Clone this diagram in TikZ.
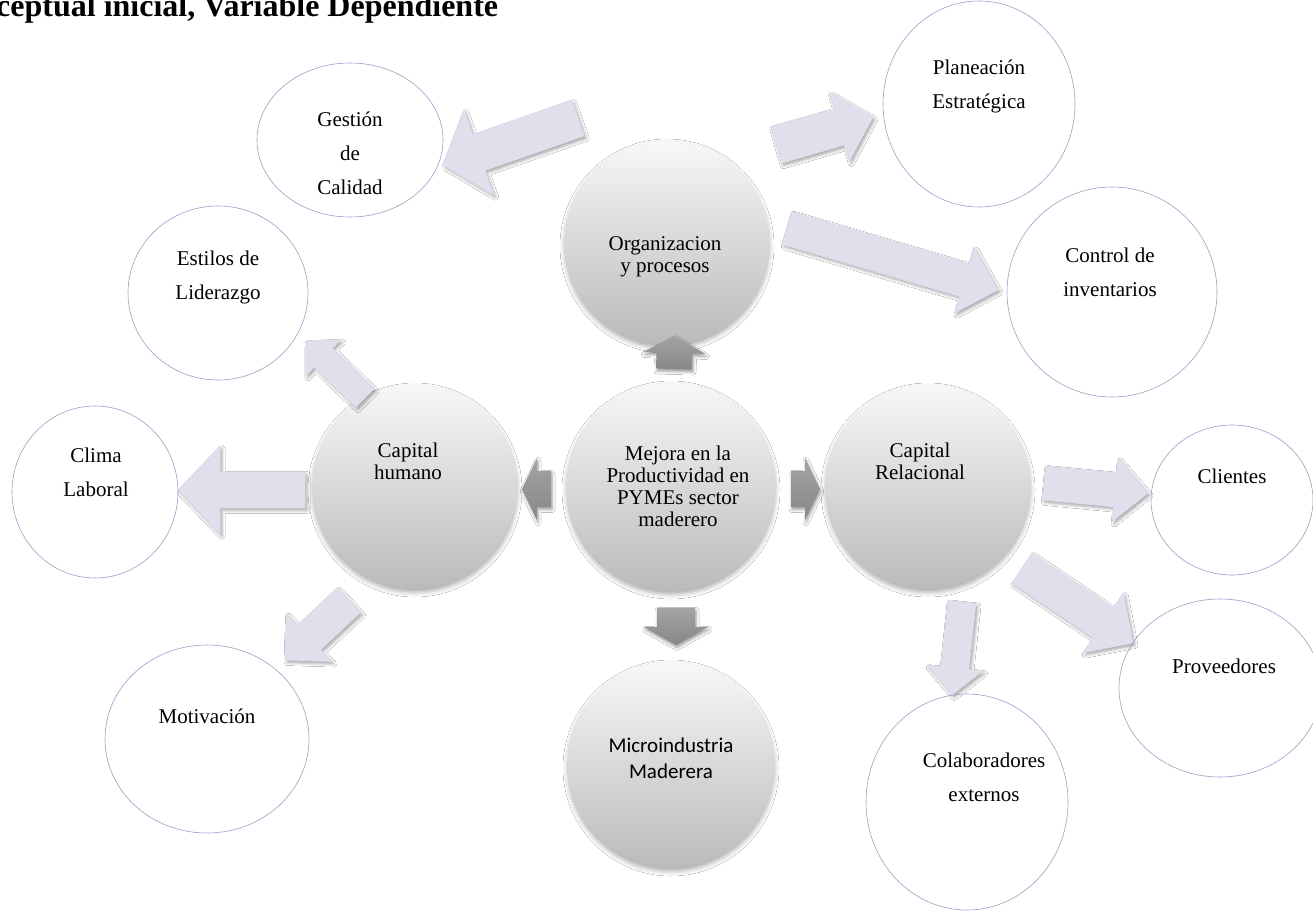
\documentclass[tikz,border=0pt]{standalone}
\usepackage{fontspec}
\setmainfont{Liberation Serif}
\newfontfamily\calfont{Carlito}
\usetikzlibrary{calc,shapes.geometric,shadows.blur}

\definecolor{lav}{RGB}{226,223,237}
\definecolor{lavedge}{RGB}{210,221,238}
\definecolor{ring}{RGB}{170,152,202}

% block arrow: style, tail, tip, half shaft width, half head width, head length
\newcommand\blockarrow[6]{%
  \coordinate (ba-c) at ($(#3)!#6!(#2)$);
  \path[#1] ($(#2)!#4!90:(#3)$) -- ($(ba-c)!#4!90:(#3)$) -- ($(ba-c)!#5!90:(#3)$)
    -- (#3) -- ($(ba-c)!#5!-90:(#3)$) -- ($(ba-c)!#4!-90:(#3)$) -- ($(#2)!#4!-90:(#3)$) -- cycle;}

\tikzset{
  hub/.style={circle, minimum size=#1, inner sep=0pt,
    top color=white!97!black, middle color=white!89!black, bottom color=white!73!black,
    blur shadow={shadow xshift=0pt, shadow yshift=-3pt, shadow blur radius=5pt, shadow opacity=35}},
  leaf/.style={ellipse, draw=ring, line width=0.6pt, inner sep=0pt},
  softarrow/.style={fill=lav, draw=lavedge, line width=0.7pt, line join=miter,
    blur shadow={shadow xshift=2pt, shadow yshift=-2.5pt, shadow blur radius=3pt, shadow opacity=35}},
  hubarrow/.style={top color=black!36, bottom color=black!47,
    blur shadow={shadow xshift=1pt, shadow yshift=-2.5pt, shadow blur radius=3pt, shadow opacity=40}},
  leaftext/.style={font=\fontsize{21}{34}\selectfont, inner sep=0pt, anchor=base},
  hubtext/.style={font=\fontsize{21}{22}\selectfont, inner sep=0pt, anchor=base},
}

\begin{document}
\begin{tikzpicture}[x=1pt,y=-1pt]
\useasboundingbox[fill=white] (0,0) rectangle (1313,912);

% heading
\node[font=\fontsize{32}{36}\selectfont\bfseries, anchor=base west, inner sep=0pt] (title)
  at (-4,17) {ceptual inicial, Variable Dependiente};

% hubs
\node[hub=208pt] (mej) at (671,487) {};
\node[hub=204pt] (org) at (667,243) {};
\node[hub=204pt] (hum) at (415,487) {};
\node[hub=204pt] (rel) at (928,487) {};
\node[hub=206pt] (mic) at (671,765) {};

% grey arrows leaving the central hub
\coordinate (u1) at (674,369); \coordinate (u2) at (675,336);
\coordinate (d1) at (676,608); \coordinate (d2) at (676,645);
\coordinate (l1) at (551,489); \coordinate (l2) at (522,489);
\coordinate (r1) at (791,489); \coordinate (r2) at (820,489);
\blockarrow{hubarrow}{u1}{u2}{18pt}{31pt}{17pt}
\blockarrow{hubarrow}{d1}{d2}{19pt}{32pt}{18pt}
\blockarrow{hubarrow}{l1}{l2}{18pt}{31pt}{15pt}
\blockarrow{hubarrow}{r1}{r2}{18pt}{31pt}{15pt}

% light arrows towards the outer topics
\coordinate (og1) at (578,118); \coordinate (og2) at (443,165);
\coordinate (op1) at (776,145); \coordinate (op2) at (873,117);
\coordinate (oc1) at (787,228); \coordinate (oc2) at (998,290);
\coordinate (he1) at (365,398); \coordinate (he2) at (306,341);
\coordinate (hc1) at (305,490); \coordinate (hc2) at (178,490);
\coordinate (hm1) at (349,600); \coordinate (hm2) at (285,660);
\coordinate (rc1) at (1044,483); \coordinate (rc2) at (1148,493);
\coordinate (rp1) at (1022,568); \coordinate (rp2) at (1133,643);
\coordinate (rk1) at (962,602); \coordinate (rk2) at (952,695);
\blockarrow{softarrow}{og1}{og2}{19pt}{45pt}{38pt}
\blockarrow{softarrow}{op1}{op2}{19pt}{36pt}{35pt}
\blockarrow{softarrow}{oc1}{oc2}{17pt}{34pt}{35pt}
\blockarrow{softarrow}{he1}{he2}{13pt}{25pt}{24pt}
\blockarrow{softarrow}{hc1}{hc2}{18pt}{44pt}{42pt}
\blockarrow{softarrow}{hm1}{hm2}{17pt}{33pt}{33pt}
\blockarrow{softarrow}{rc1}{rc2}{17pt}{32pt}{33pt}
\blockarrow{softarrow}{rp1}{rp2}{18pt}{36pt}{36pt}
\blockarrow{softarrow}{rk1}{rk2}{14pt}{28pt}{27pt}

% outer topics
\node[leaf, minimum width=186pt, minimum height=154pt] (gest) at (350,140) {};
\node[leaf, minimum width=192pt, minimum height=206pt] (plan) at (979,104) {};
\node[leaf, minimum width=210pt, minimum height=210pt] (cont) at (1112,292) {};
\node[leaf, minimum width=180pt, minimum height=174pt] (esti) at (218,293) {};
\node[leaf, minimum width=166pt, minimum height=172pt] (clim) at (95,492) {};
\node[leaf, minimum width=204pt, minimum height=188pt] (moti) at (207,739) {};
\node[leaf, minimum width=162pt, minimum height=150pt] (clie) at (1232,500) {};
\node[leaf, minimum width=202pt, minimum height=178pt] (prov) at (1220,688) {};
\node[leaf, minimum width=202pt, minimum height=216pt] (cola) at (967,802) {};

% texts of the outer topics
\node[leaftext] (gestT) at (350,127) {\begin{tabular}[t]{@{}c@{}}Gestión\\de\\Calidad\end{tabular}};
\node[leaftext] (planT) at (979,75) {\begin{tabular}[t]{@{}c@{}}Planeación\\Estratégica\end{tabular}};
\node[leaftext] (contT) at (1110,262) {\begin{tabular}[t]{@{}c@{}}Control de\\inventarios\end{tabular}};
\node[leaftext] (estiT) at (218,265) {\begin{tabular}[t]{@{}c@{}}Estilos de\\Liderazgo\end{tabular}};
\node[leaftext] (climT) at (96,462) {\begin{tabular}[t]{@{}c@{}}Clima\\Laboral\end{tabular}};
\node[leaftext] (motiT) at (207,723) {Motivación};
\node[leaftext] (clieT) at (1232,483) {Clientes};
\node[leaftext] (provT) at (1224,673) {Proveedores};
\node[leaftext] (colaT) at (984,767) {\begin{tabular}[t]{@{}c@{}}Colaboradores\\externos\end{tabular}};

% texts of the hubs
\node[hubtext] (mejT) at (678,460) {\begin{tabular}[t]{@{}c@{}}Mejora en la\\Productividad en\\PYMEs sector\\maderero\end{tabular}};
\node[hubtext] (orgT) at (665,250) {\begin{tabular}[t]{@{}c@{}}Organizacion\\y procesos\end{tabular}};
\node[hubtext] (humT) at (408,457) {\begin{tabular}[t]{@{}c@{}}Capital\\humano\end{tabular}};
\node[hubtext] (relT) at (920,457) {\begin{tabular}[t]{@{}c@{}}Capital\\Relacional\end{tabular}};
\node[hubtext, font=\calfont\fontsize{21}{26}\selectfont] (micT) at (671,752) {\begin{tabular}[t]{@{}c@{}}Microindustria\\Maderera\end{tabular}};
\end{tikzpicture}
\end{document}
